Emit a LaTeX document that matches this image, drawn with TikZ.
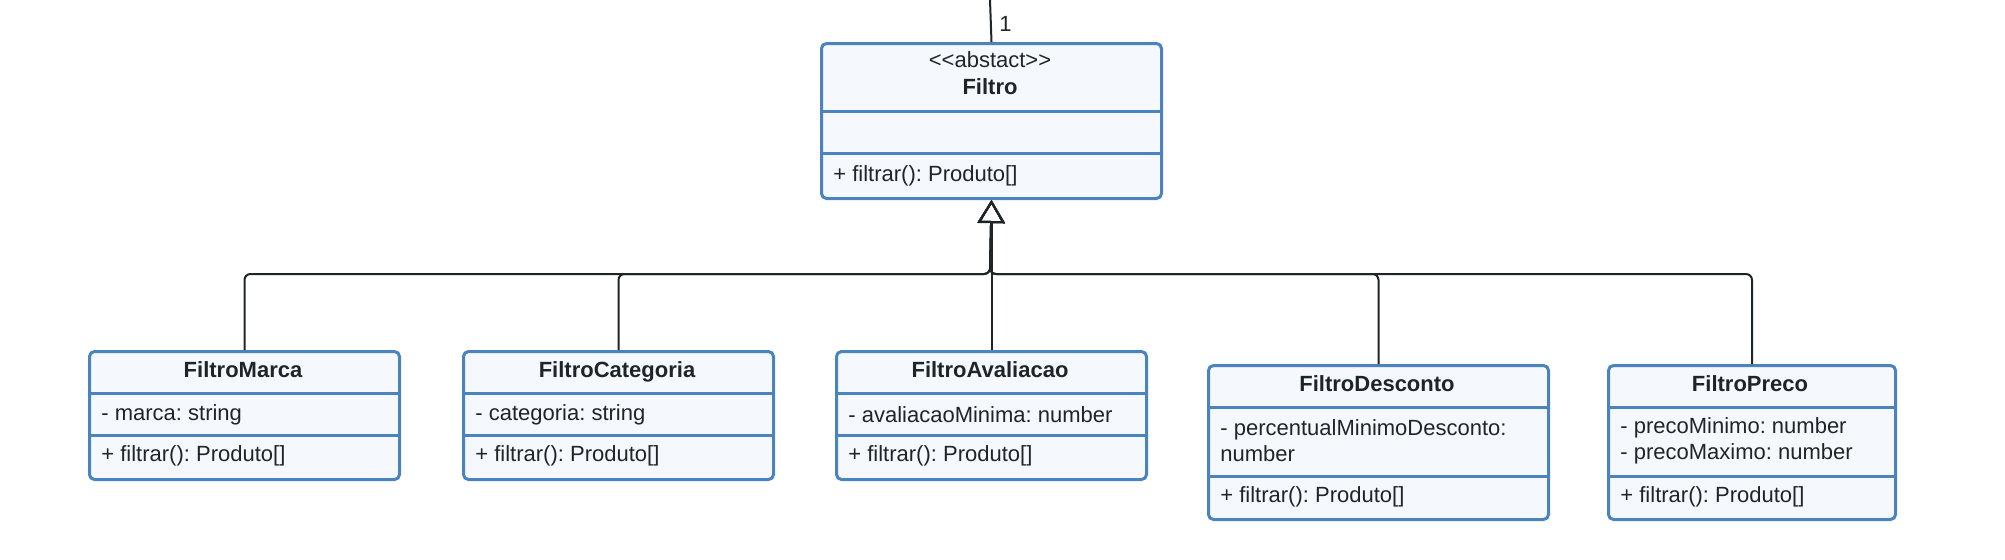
\documentclass[tikz,border=0pt]{standalone}
\usepackage{fontspec}
\usepackage{xcolor}
\setmainfont{Liberation Sans}
\usetikzlibrary{arrows.meta}

\definecolor{umlblue}{HTML}{4A83BD}
\definecolor{umlfill}{HTML}{F5F9FE}
\definecolor{umlink}{HTML}{1E2528}

\begin{document}
\frenchspacing
\begin{tikzpicture}[x=0.5pt, y=-0.5pt,
    classbox/.style={draw=umlblue, fill=umlfill, line width=1.5pt, rounded corners=2.5pt, anchor=north west, inner sep=0pt},
    sep/.style={draw=umlblue, line width=1.5pt},
    title/.style={font=\fontsize{11}{13}\selectfont\bfseries, text=umlink, inner sep=0pt, text height=8pt, text depth=2.5pt, yshift=-1.2pt},
    member/.style={font=\fontsize{11}{13}\selectfont, text=umlink, anchor=west, align=left, inner sep=0pt, yshift=-1.3pt},
    inherit/.style={draw=umlink, line width=1pt, rounded corners=3pt, -{Triangle[open, length=11.5pt, width=13.5pt]}}]
  \useasboundingbox (0,0) rectangle (2005,559);

  % abstract class
  \node[classbox, minimum width=170pt, minimum height=77.5pt] (filtro) at (820,42) {};
  \draw[sep] (820,111) -- (1160,111);
  \draw[sep] (820,153) -- (1160,153);
  \node[member, anchor=center, yshift=1.3pt] (filtro-st) at (990,60) {<\kern0pt<abstact>\kern0pt>};
  \node[title] (filtro-name) at (990,87) {Filtro};
  \node[member] (filtro-op) at (833,173) {+ filtrar(): Produto[]};

  % subclasses
  \node[classbox, minimum width=155pt, minimum height=64pt] (marca) at (88,350) {};
  \draw[sep] (88,393) -- (398,393);
  \draw[sep] (88,435) -- (398,435);
  \node[title] (marca-name) at (243,370) {FiltroMarca};
  \node[member] (marca-attr) at (101,412) {- marca: string};
  \node[member] (marca-op) at (101,453) {+ filtrar(): Produto[]};

  \node[classbox, minimum width=155pt, minimum height=64pt] (categoria) at (462,350) {};
  \draw[sep] (462,393) -- (772,393);
  \draw[sep] (462,435) -- (772,435);
  \node[title] (categoria-name) at (617,370) {FiltroCategoria};
  \node[member] (categoria-attr) at (475,412) {- categoria: string};
  \node[member] (categoria-op) at (475,453) {+ filtrar(): Produto[]};

  \node[classbox, minimum width=155pt, minimum height=64pt] (avaliacao) at (835,350) {};
  \draw[sep] (835,393) -- (1145,393);
  \draw[sep] (835,435) -- (1145,435);
  \node[title] (avaliacao-name) at (990,370) {FiltroAvaliacao};
  \node[member] (avaliacao-attr) at (848,412) {- avaliacaoMinima: number};
  \node[member] (avaliacao-op) at (848,453) {+ filtrar(): Produto[]};

  \node[classbox, minimum width=170pt, minimum height=77pt] (desconto) at (1207,364) {};
  \draw[sep] (1207,407) -- (1547,407);
  \draw[sep] (1207,476) -- (1547,476);
  \node[title] (desconto-name) at (1377,384) {FiltroDesconto};
  \node[member] (desconto-attr) at (1220,438) {- percentualMinimoDesconto:\\number};
  \node[member] (desconto-op) at (1220,494) {+ filtrar(): Produto[]};

  \node[classbox, minimum width=143.5pt, minimum height=77pt] (preco) at (1607,364) {};
  \draw[sep] (1607,407) -- (1894,407);
  \draw[sep] (1607,476) -- (1894,476);
  \node[title] (preco-name) at (1750,384) {FiltroPreco};
  \node[member] (preco-attr) at (1620,438) {- precoMinimo: number\\- precoMaximo: number};
  \node[member] (preco-op) at (1620,494) {+ filtrar(): Produto[]};

  % generalisation
  \coordinate (bus) at (990,274);
  \draw[inherit] (marca.north) |- (bus) -- (filtro.south);
  \draw[inherit] (categoria.north) |- (bus) -- (filtro.south);
  \draw[inherit] (avaliacao.north) -- (filtro.south);
  \draw[inherit] (desconto.north) |- (bus) -- (filtro.south);
  \draw[inherit] (preco.north) |- (bus) -- (filtro.south);

  % association from above
  \coordinate (top) at (990,0);
  \draw[draw=umlink, line width=1pt] (top) -- (filtro.north);
  \node[member, yshift=1.3pt] (mult) at (999,24) {1};
\end{tikzpicture}
\end{document}
